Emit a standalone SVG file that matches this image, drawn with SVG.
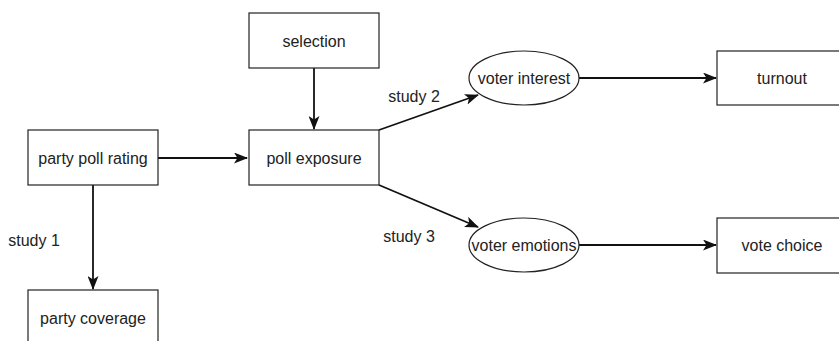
<svg xmlns="http://www.w3.org/2000/svg" width="839" height="341" viewBox="0 0 839 341">
<style>
.box{fill:#fff;stroke:#222;stroke-width:1.2}
.t{font-family:"Liberation Sans",Arial,sans-serif;font-size:16px;fill:#222;text-anchor:middle;dominant-baseline:central}
.e{fill:none;stroke:#111;stroke-width:1.8}
</style>
<defs>
<marker id="ah" viewBox="0 0 14 11" refX="13" refY="5.5" markerWidth="14" markerHeight="11" markerUnits="userSpaceOnUse" orient="auto">
<path d="M0,0 L14,5.5 L0,11 L3.5,5.5 Z" fill="#111"/>
</marker>
</defs>
<rect width="839" height="341" fill="#fff"/>
<g id="connectors">
<line class="e" x1="93" y1="185" x2="93" y2="289" marker-end="url(#ah)"/>
<line class="e" x1="158" y1="158" x2="247" y2="158" marker-end="url(#ah)"/>
<line class="e" x1="314" y1="68" x2="314" y2="129" marker-end="url(#ah)"/>
<line class="e" x1="379" y1="130" x2="478" y2="95" marker-end="url(#ah)"/>
<line class="e" x1="379" y1="185" x2="478" y2="227" marker-end="url(#ah)"/>
<line class="e" x1="579" y1="78" x2="716" y2="78" marker-end="url(#ah)"/>
<line class="e" x1="578" y1="245" x2="716" y2="245" marker-end="url(#ah)"/>
<text class="t" x="34" y="240">study 1</text>
<text class="t" x="414" y="96">study 2</text>
<text class="t" x="409" y="236">study 3</text>
</g>
<g id="party-poll-rating"><rect class="box" x="28" y="130" width="130" height="55"/><text class="t" x="93" y="158">party poll rating</text></g>
<g id="party-coverage"><rect class="box" x="28" y="290" width="130" height="55"/><text class="t" x="93" y="318">party coverage</text></g>
<g id="selection"><rect class="box" x="249" y="13" width="130" height="55"/><text class="t" x="314" y="41">selection</text></g>
<g id="poll-exposure"><rect class="box" x="249" y="130" width="130" height="55"/><text class="t" x="314" y="158">poll exposure</text></g>
<g id="voter-interest"><ellipse class="box" cx="524" cy="78" rx="55" ry="27"/><text class="t" x="524" y="78">voter interest</text></g>
<g id="voter-emotions"><ellipse class="box" cx="524" cy="245" rx="55" ry="27"/><text class="t" x="524" y="245">voter emotions</text></g>
<g id="turnout"><rect class="box" x="717" y="51" width="130" height="54"/><text class="t" x="782" y="78">turnout</text></g>
<g id="vote-choice"><rect class="box" x="717" y="218" width="130" height="55"/><text class="t" x="782" y="245">vote choice</text></g>
</svg>
